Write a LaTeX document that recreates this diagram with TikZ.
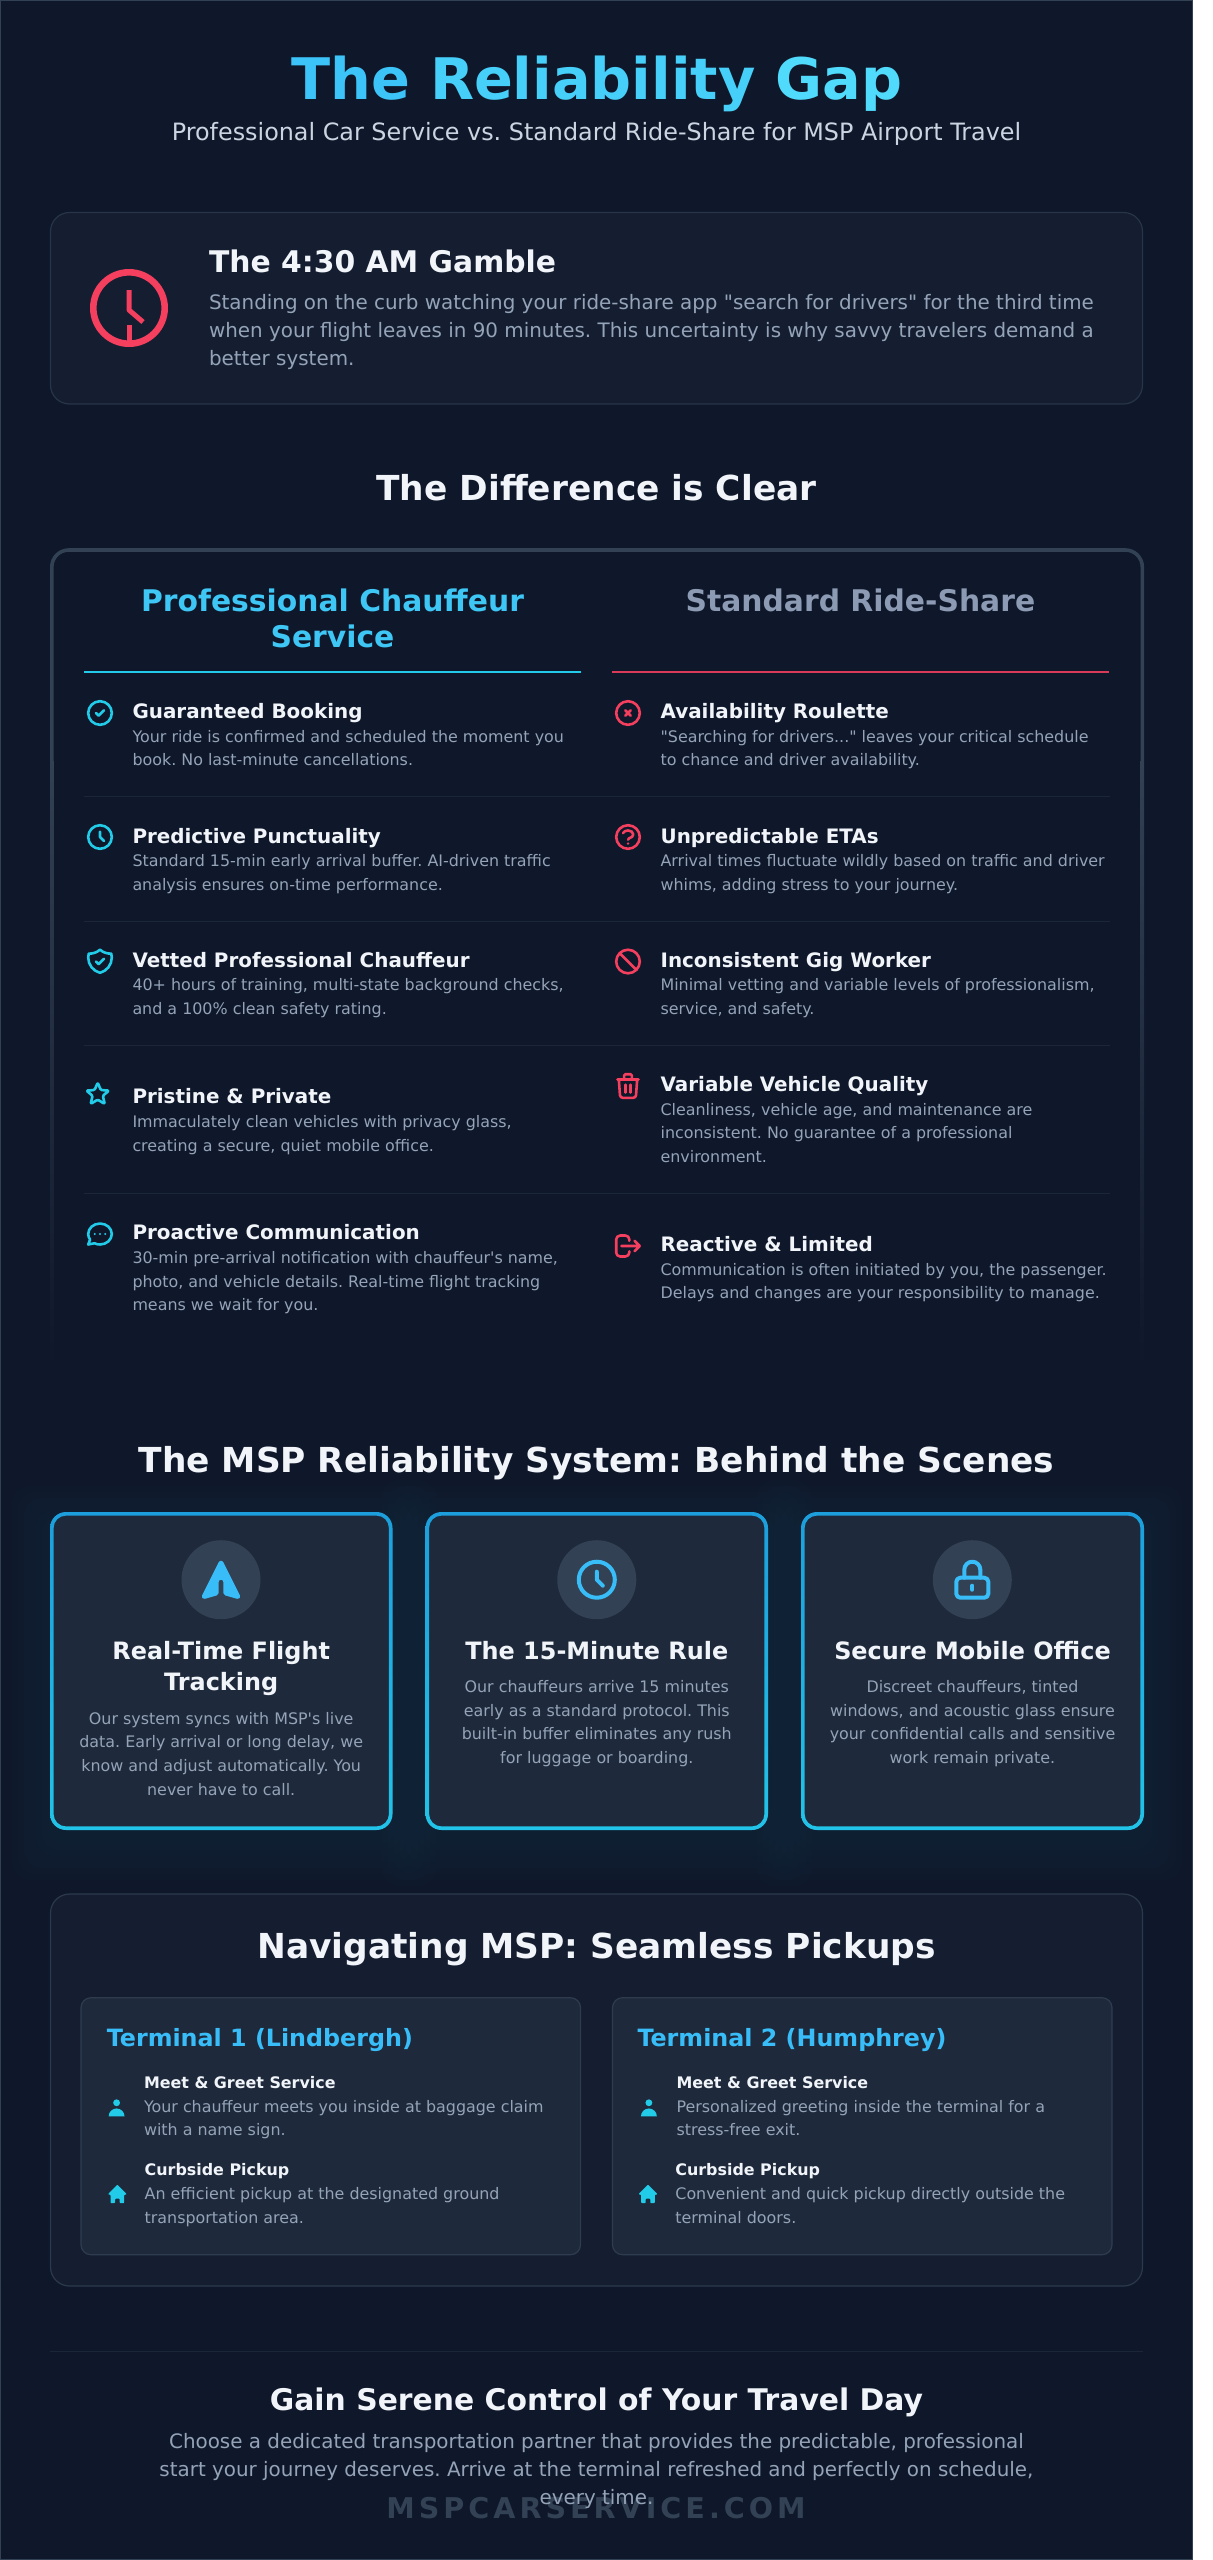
\documentclass[tikz,border=0pt]{standalone}
\usepackage{fontspec}
\newfontfamily\djv{DejaVu Sans}
\newfontfamily\djvwide{DejaVu Sans}[LetterSpace=14]
\newcommand\fnt[2]{\djv\fontsize{#1}{#2}\selectfont}
\frenchspacing
\definecolor{bgc}{HTML}{0F172A}
\definecolor{alertc}{HTML}{151E31}
\definecolor{cardc}{HTML}{1E293B}
\definecolor{edgec}{HTML}{334155}
\definecolor{rowc}{HTML}{1C2639}
\definecolor{skyc}{HTML}{38BDF8}
\definecolor{cyanc}{HTML}{22CBE8}
\definecolor{redc}{HTML}{F43F5E}
\definecolor{whitec}{HTML}{F1F5F9}
\definecolor{greyc}{HTML}{94A3B8}
\definecolor{subc}{HTML}{CBD5E1}
\definecolor{headgrey}{HTML}{8C9BB3}
\definecolor{bordtop}{HTML}{1C9FDC}
\definecolor{bordbot}{HTML}{22C3E8}
\definecolor{colheadc}{HTML}{3EC6F5}
\newcount\tcnt
\newcommand\tx[5][]{\global\advance\tcnt by 1\relax
  \node[#1] (t\the\tcnt) at (#2,{#3-#4}) {\rule{0pt}{#4pt}#5};}
\tikzset{
  lt/.style={inner sep=0pt,outer sep=0pt,anchor=north west,align=left},
  ct/.style={inner sep=0pt,outer sep=0pt,anchor=north,align=center},
  heading/.style={ct,text=whitec,font=\fnt{34.4}{40}\bfseries},
  itemt/.style={lt,text=whitec,font=\fnt{19.9}{24}\bfseries},
  itemd/.style={lt,text=greyc,font=\fnt{15.9}{23.75}},
  coldesc/.style={ct,text=greyc,font=\fnt{15.9}{23.75}},
  cardt/.style={ct,text=whitec,font=\fnt{23.9}{31.8}\bfseries},
  colhead/.style={ct,font=\fnt{29.8}{36}\bfseries},
  termt/.style={lt,text=skyc,font=\fnt{23.8}{28}\bfseries},
  subt/.style={lt,text=whitec,font=\fnt{15.9}{24}\bfseries},
  ic/.style={line width=2.6pt,line cap=round,line join=round},
  icb/.style={line width=4pt,line cap=round,line join=round,draw=skyc},
  hair/.style={draw=rowc,line width=1pt},
  icn/.style n args={2}{shift={(#1,#2)},scale=1.31,shift={(-12,-12)}},
}
\newcommand\cmpitem[5]{\tx[itemt]{#1}{#2+1}{19.9}{#3}\tx[itemd]{#1}{#4}{15.9}{#5}}
\newcommand\glow[4]{%
  \foreach \g in {44,38,32,26,20,14,8,3}{
    \fill[skyc,opacity=0.006,rounded corners=18pt] ({#1-\g},{#2-\g+12}) rectangle ({#3+\g},{#4+\g+12});}}
\newcommand\featcard[4]{%
  \fill[cardc,rounded corners=16pt] (#1,#2) rectangle (#3,#4);
  \shade[even odd rule,top color=bordtop,bottom color=bordbot]
    [rounded corners=16pt] (#1,#2) rectangle (#3,#4)
    [rounded corners=12.4pt] ({#1+3.6},{#2+3.6}) rectangle ({#3-3.6},{#4-3.6});}
\begin{document}
\begin{tikzpicture}[x=1pt,y=1pt,yscale=-1]
\useasboundingbox (0,0) rectangle (1213,2560);
\fill[white] (0,0) rectangle (1213,2560);
\fill[bgc] (0,0) rectangle (1193,2560);
\draw[edgec,line width=1.4pt] (.7,.7) rectangle (1192.3,2559.3);

% header
\tx[ct,font=\fnt{57.3}{66}\bfseries]{596.8}{99}{57.3}{\textcolor[HTML]{3CC4F9}{The} \textcolor[HTML]{46CFF9}{Reliability} \textcolor[HTML]{50DAFB}{Gap}}
\tx[ct,text=subc,font=\fnt{23.85}{28}]{596.5}{140}{23.85}{Professional Car Service vs. Standard Ride-Share for MSP Airport Travel}

% alert
\draw[edgec!70!bgc,fill=alertc,line width=1.2pt,rounded corners=19pt] (50.5,212.5) rectangle (1142.5,404);
\draw[redc,line width=6.6pt] (129,308) circle[radius=35.7pt];
\draw[redc,line width=5pt,line join=round] (129,290) -- (129,310) -- (143,322);
\draw[redc,line width=5pt] (129,325) -- (129,345);
\tx[lt,text=whitec,font=\fnt{29.8}{36}\bfseries]{209}{272.7}{29.8}{The 4:30 AM Gamble}
\tx[lt,text=greyc,font=\fnt{19.9}{28}]{209}{309}{19.9}{Standing on the curb watching your ride-share app "search for drivers" for the third time\\when your flight leaves in 90 minutes. This uncertainty is why savvy travelers demand a\\better system.}

% comparison
\tx[heading]{596.5}{500}{34.4}{The Difference is Clear}
\draw[edgec,line width=3.6pt,rounded corners=17pt] (51.8,760) -- (51.8,550) -- (1142.3,550) -- (1142.3,760);
\shade[top color=edgec,bottom color=bgc] (50,760) rectangle (53.6,1368);
\shade[top color=edgec,bottom color=bgc] (1140.5,760) rectangle (1144.1,1368);
\tx[colhead,text=colheadc]{332.5}{611.7}{29.8}{Professional Chauffeur\\Service}
\tx[colhead,text=headgrey]{860.4}{611.7}{29.8}{Standard Ride-Share}
\draw[cyanc,line width=2.4pt] (84,671.7) -- (580.5,671.7);
\draw[redc!88!bgc,line width=2.4pt] (612,671.7) -- (1109,671.7);
\draw[hair] (84,796.7) -- (1110,796.7);
\draw[hair] (84,921) -- (1110,921);
\draw[hair] (84,1045.3) -- (1110,1045.3);
\draw[hair] (84,1193.3) -- (1110,1193.3);

\cmpitem{132.5}{717.7}{Guaranteed Booking}{742}{Your ride is confirmed and scheduled the moment you\\book. No last-minute cancellations.}
\cmpitem{132.5}{842}{Predictive Punctuality}{866.5}{Standard 15-min early arrival buffer. AI-driven traffic\\analysis ensures on-time performance.}
\cmpitem{132.5}{966}{Vetted Professional Chauffeur}{990.7}{40+ hours of training, multi-state background checks,\\and a 100\% clean safety rating.}
\cmpitem{132.5}{1102.3}{Pristine \& Private}{1127.3}{Immaculately clean vehicles with privacy glass,\\creating a secure, quiet mobile office.}
\cmpitem{132.5}{1238.7}{Proactive Communication}{1263.3}{30-min pre-arrival notification with chauffeur's name,\\photo, and vehicle details. Real-time flight tracking\\means we wait for you.}
\cmpitem{660.6}{717.7}{Availability Roulette}{742}{"Searching for drivers..." leaves your critical schedule\\to chance and driver availability.}
\cmpitem{660.6}{842}{Unpredictable ETAs}{866.5}{Arrival times fluctuate wildly based on traffic and driver\\whims, adding stress to your journey.}
\cmpitem{660.6}{966}{Inconsistent Gig Worker}{990.7}{Minimal vetting and variable levels of professionalism,\\service, and safety.}
\cmpitem{660.6}{1090.7}{Variable Vehicle Quality}{1115}{Cleanliness, vehicle age, and maintenance are\\inconsistent. No guarantee of a professional\\environment.}
\cmpitem{660.6}{1250.7}{Reactive \& Limited}{1275}{Communication is often initiated by you, the passenger.\\Delays and changes are your responsibility to manage.}

% left icons
\begin{scope}[ic,draw=cyanc,icn={100}{713}]
  \draw (12,12) circle[radius=9pt];
  \draw (9,12) -- (11,14) -- (15,10);
\end{scope}
\begin{scope}[ic,draw=cyanc,icn={100}{837}]
  \draw (12,12) circle[radius=9pt];
  \draw (12,8) -- (12,12) -- (15,15);
\end{scope}
\begin{scope}[ic,draw=cyanc,icn={100}{961.5}]
  \draw (9,12) -- (11,14) -- (15,10);
  \draw (3.382,5.984) .. controls (6.5,6.1) and (9.7,5.1) .. (12,2.944) .. controls (14.3,5.1) and (17.5,6.1) .. (20.618,5.984)
    .. controls (20.867,6.948) and (21,7.958) .. (21,9) .. controls (21,14.592) and (17.176,19.29) .. (12,20.622)
    .. controls (6.824,19.29) and (3,14.591) .. (3,9) .. controls (3,7.96) and (3.13,6.95) .. (3.382,5.984) -- cycle;
\end{scope}
\draw[ic,cyanc,rounded corners=1.2pt] (97.7,1082.6) -- (100.8,1090) -- (109,1090.6) -- (102.8,1095.8) -- (104.8,1104) -- (97.7,1099.6) -- (90.6,1104) -- (92.6,1095.8) -- (86.4,1090.6) -- (94.6,1090) -- cycle;
\begin{scope}[ic,draw=cyanc,icn={100}{1234}]
  \draw (21,12) .. controls (21,16.418) and (16.97,20) .. (12,20) .. controls (10.5,20) and (9,19.65) .. (7.745,19.051) -- (3,20) -- (4.395,16.28)
    .. controls (3.512,15.042) and (3,13.574) .. (3,12) .. controls (3,7.582) and (7.03,4) .. (12,4) .. controls (16.97,4) and (21,7.582) .. (21,12) -- cycle;
  \fill[cyanc] (8,12) circle[radius=.9pt] (12,12) circle[radius=.9pt] (16,12) circle[radius=.9pt];
\end{scope}

% right icons
\begin{scope}[ic,draw=redc,icn={628}{713}]
  \draw (12,12) circle[radius=9pt];
  \draw (10,14) -- (14,10) (10,10) -- (14,14);
\end{scope}
\begin{scope}[ic,draw=redc,icn={628}{837}]
  \draw (12,12) circle[radius=9pt];
  \draw (8.228,9) .. controls (8.777,7.835) and (10.258,7) .. (12,7) .. controls (14.21,7) and (16,8.343) .. (16,10)
    .. controls (16,11.4) and (14.722,12.575) .. (12.994,12.907) .. controls (12.452,13.011) and (12,13.447) .. (12,14);
  \fill[redc] (12,17) circle[radius=1pt];
\end{scope}
\begin{scope}[ic,draw=redc,icn={628}{961.5}]
  \draw (12,12) circle[radius=9pt];
  \draw (18.364,18.364) -- (5.636,5.636);
\end{scope}
\begin{scope}[ic,draw=redc,icn={628}{1086}]
  \draw[rounded corners=2.6pt] (19,7) -- (18,21) -- (6,21) -- (5,7);
  \draw (4,7) -- (20,7) (10,11) -- (10,17) (14,11) -- (14,17);
  \draw[rounded corners=1.3pt] (15,7) -- (15,3) -- (9,3) -- (9,7);
\end{scope}
\begin{scope}[ic,draw=redc,icn={628}{1246}]
  \draw (17,16) -- (21,12) -- (17,8) (21,12) -- (7,12);
  \draw[rounded corners=3.9pt] (13,16) -- (13,20) -- (3,20) -- (3,4) -- (13,4) -- (13,8);
\end{scope}

% system
\tx[heading]{596.5}{1472.3}{34.4}{The MSP Reliability System: Behind the Scenes}
\glow{50}{1512}{392.5}{1830}
\glow{425.5}{1512}{768}{1830}
\glow{801}{1512}{1144}{1830}
\featcard{50}{1512}{392.5}{1830}
\featcard{425.5}{1512}{768}{1830}
\featcard{801}{1512}{1144}{1830}
\fill[edgec] (221,1579.7) circle[radius=39.5pt];
\fill[edgec] (596.8,1579.7) circle[radius=39.5pt];
\fill[edgec] (972.3,1579.7) circle[radius=39.5pt];
\begin{scope}[shift={(221,1579.7)},scale=2.4,shift={(-10,-10)}]
  \fill[skyc] (10.894,2.553) .. controls (10.5,1.9) and (9.5,1.9) .. (9.106,2.553) -- (2.106,16.553)
    .. controls (1.7,17.4) and (2.4,18.2) .. (3.275,17.962) -- (8.275,16.533) .. controls (8.7,16.4) and (9,16) .. (9,15.571)
    -- (9,11) .. controls (9,9.67) and (11,9.67) .. (11,11) -- (11,15.571) .. controls (11,16) and (11.3,16.4) .. (11.725,16.533)
    -- (16.725,17.961) .. controls (17.6,18.2) and (18.3,17.4) .. (17.895,16.553) -- cycle;
\end{scope}
\begin{scope}[shift={(596.8,1579.7)},scale=2,shift={(-12,-12)}]
  \draw[icb] (12,12) circle[radius=9pt];
  \draw[icb] (12,8) -- (12,12) -- (15,15);
\end{scope}
\begin{scope}[shift={(972.3,1579.7)},scale=2,shift={(-12,-12)}]
  \draw[icb,rounded corners=4pt] (4,11) rectangle (20,21);
  \draw[icb] (8,11) -- (8,7) arc[start angle=180,end angle=360,radius=4pt] -- (16,11);
  \draw[icb] (12,15) -- (12,17);
\end{scope}
\tx[cardt]{221.2}{1659}{23.9}{Real-Time Flight\\Tracking}
\tx[cardt]{596.8}{1659}{23.9}{The 15-Minute Rule}
\tx[cardt]{972.5}{1659}{23.9}{Secure Mobile Office}
\tx[coldesc]{221.2}{1724}{15.9}{Our system syncs with MSP's live\\data. Early arrival or long delay, we\\know and adjust automatically. You\\never have to call.}
\tx[coldesc]{596.8}{1692.3}{15.9}{Our chauffeurs arrive 15 minutes\\early as a standard protocol. This\\built-in buffer eliminates any rush\\for luggage or boarding.}
\tx[coldesc]{972.5}{1692.3}{15.9}{Discreet chauffeurs, tinted\\windows, and acoustic glass ensure\\your confidential calls and sensitive\\work remain private.}

% terminals
\draw[edgec!80!bgc,fill=alertc,line width=1.2pt,rounded corners=19pt] (50.5,1894) rectangle (1142.5,2286);
\tx[heading]{596.5}{1958.3}{34.4}{Navigating MSP: Seamless Pickups}
\draw[edgec!80!cardc,fill=cardc,line width=1.2pt,rounded corners=10pt] (81,1997.7) rectangle (580.5,2254.7);
\draw[edgec!80!cardc,fill=cardc,line width=1.2pt,rounded corners=10pt] (612.5,1997.7) rectangle (1112,2254.7);
\tx[termt]{106.8}{2046.7}{23.8}{Terminal 1 (Lindbergh)}
\tx[termt]{637.5}{2046.7}{23.8}{Terminal 2 (Humphrey)}
\tx[subt]{144}{2088.5}{15.9}{Meet \& Greet Service}
\tx[itemd]{144}{2112}{15.9}{Your chauffeur meets you inside at baggage claim\\with a name sign.}
\tx[subt]{144.7}{2175.3}{15.9}{Curbside Pickup}
\tx[itemd]{144.7}{2199.3}{15.9}{An efficient pickup at the designated ground\\transportation area.}
\tx[subt]{676.6}{2088.5}{15.9}{Meet \& Greet Service}
\tx[itemd]{676.6}{2112}{15.9}{Personalized greeting inside the terminal for a\\stress-free exit.}
\tx[subt]{675.4}{2175.3}{15.9}{Curbside Pickup}
\tx[itemd]{675.4}{2199.3}{15.9}{Convenient and quick pickup directly outside the\\terminal doors.}
\foreach \px/\py in {116.6/2107.3,648.9/2107.3}{
  \begin{scope}[shift={(\px,\py)},scale=1.14,shift={(-10,-10)}]
    \fill[cyanc] (10,6) circle[radius=3pt];
    \fill[cyanc] (3,18) arc[start angle=180,end angle=360,radius=7pt] -- cycle;
  \end{scope}}
\foreach \px/\py in {117.4/2194,648/2194}{
  \begin{scope}[shift={(\px,\py)},scale=1.14,shift={(-10,-10)}]
    \fill[cyanc,rounded corners=.8pt] (10,1.8) -- (18.2,10) -- (17,11) -- (16,10.4) -- (16,18) -- (12,18) -- (12,14) -- (8,14) -- (8,18) -- (4,18) -- (4,10.4) -- (3,11) -- (1.8,10) -- cycle;
  \end{scope}}

% footer
\draw[hair] (50,2351) -- (1143,2351);
\tx[ct,text=edgec,font={\djvwide\fontsize{28.6}{34}\selectfont\bfseries}]{596}{2518.3}{28.6}{MSPCARSERVICE.COM}
\tx[ct,text=whitec,font=\fnt{29.8}{36}\bfseries]{596.5}{2410.7}{29.8}{Gain Serene Control of Your Travel Day}
\tx[ct,text=greyc,font=\fnt{19.9}{28}]{596.5}{2448.3}{19.9}{Choose a dedicated transportation partner that provides the predictable, professional\\start your journey deserves. Arrive at the terminal refreshed and perfectly on schedule,\\every time.}
\end{tikzpicture}
\end{document}
